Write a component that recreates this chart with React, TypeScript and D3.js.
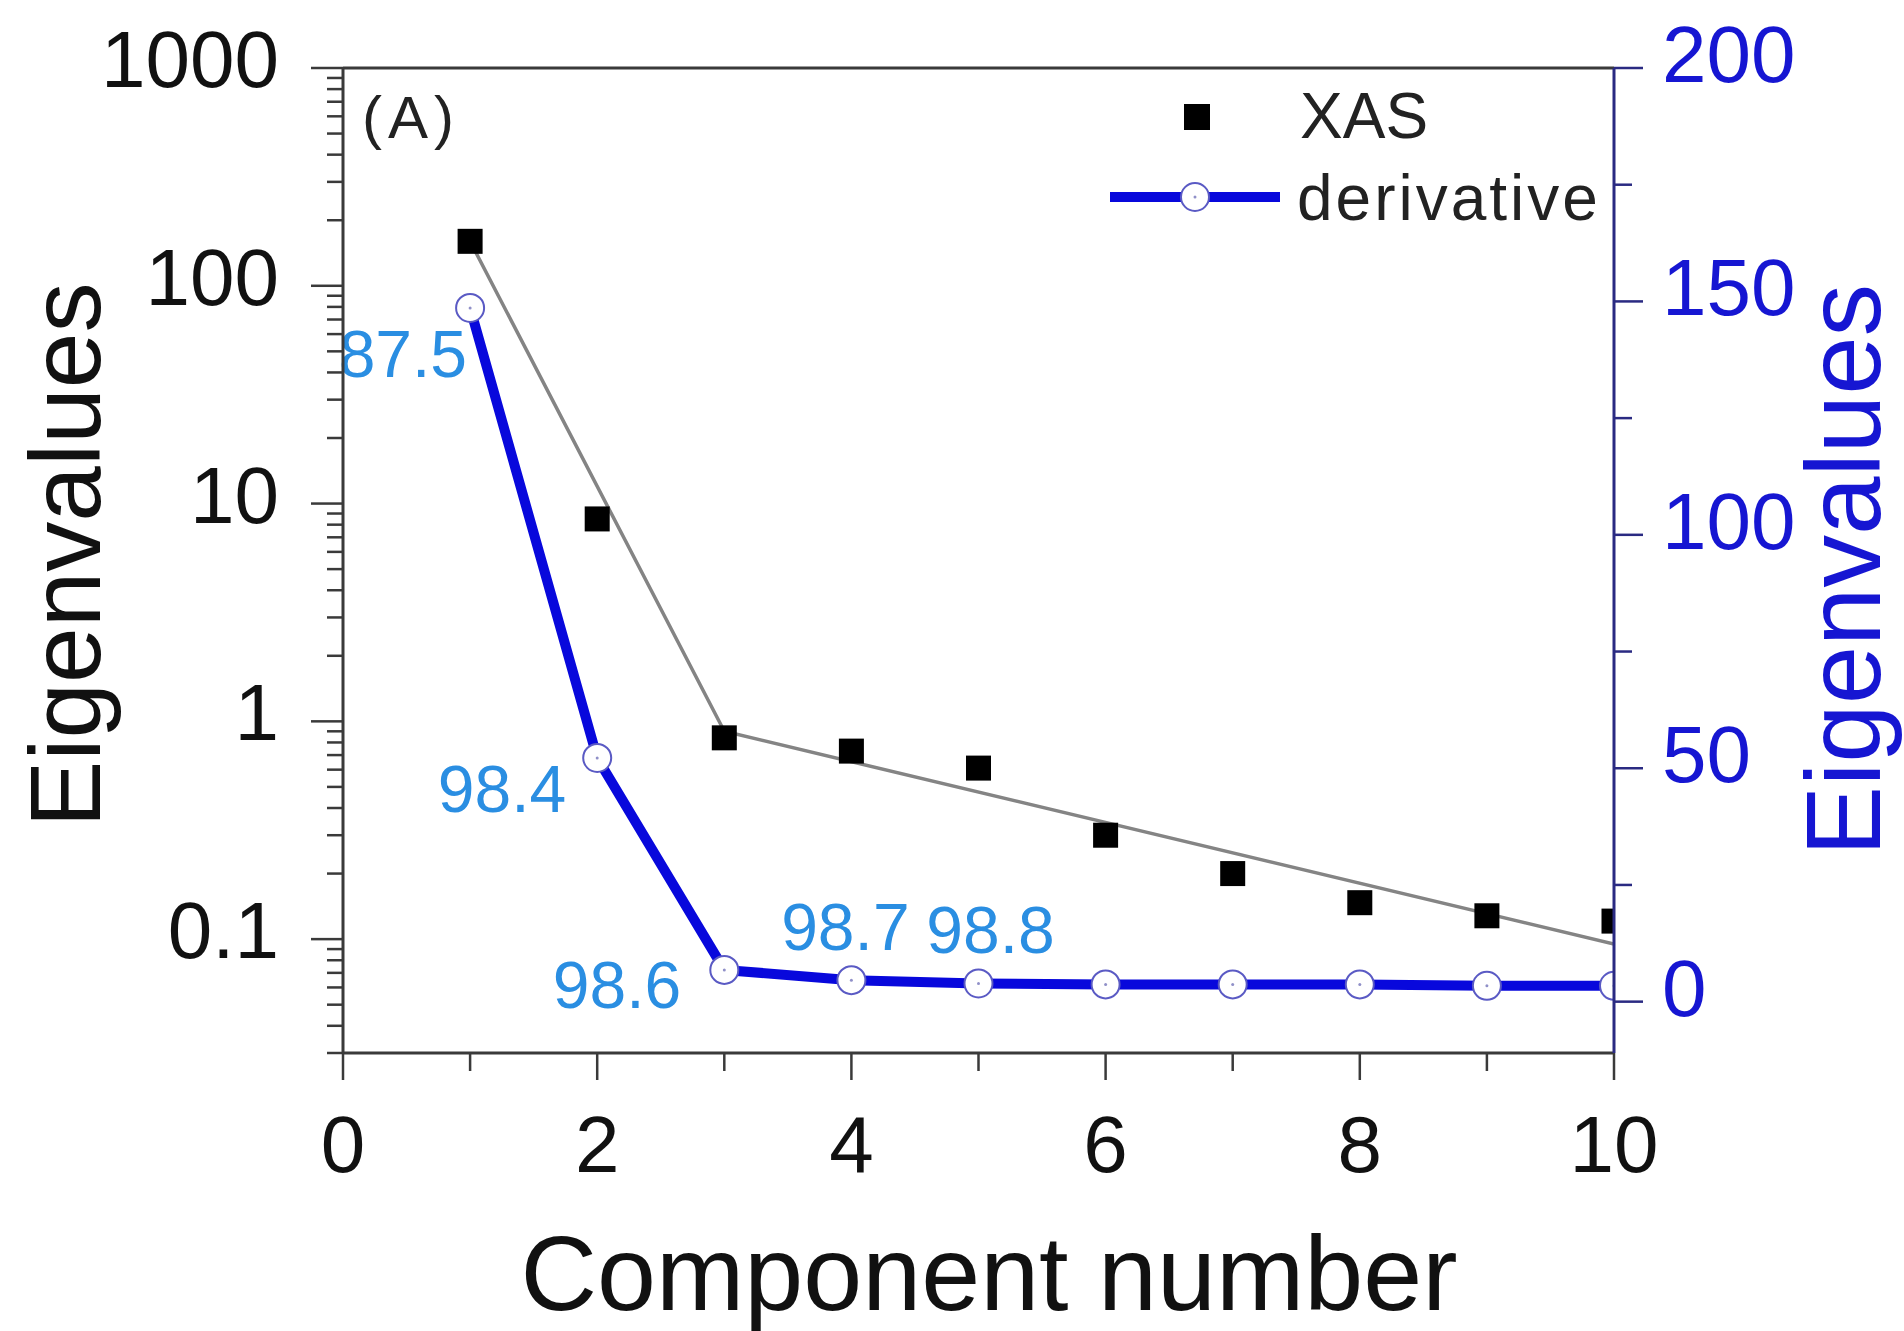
import React from "react";
import * as d3 from "d3";

// ---------- data ----------
const components = [1, 2, 3, 4, 5, 6, 7, 8, 9, 10];
const xasValues = [160, 8.5, 0.84, 0.73, 0.61, 0.3, 0.2, 0.147, 0.128, 0.121];
const derivativeValues = [148.6, 52.2, 6.8, 4.6, 3.9, 3.7, 3.7, 3.7, 3.4, 3.4];
const fitX = [1, 3, 10];
const fitY = [160, 0.9, 0.095];
const cumulativeComponents = [1, 2, 3, 4, 5];
const cumulativeLabels = ["87.5", "98.4", "98.6", "98.7", "98.8"];
const xTicks = [0, 2, 4, 6, 8, 10];
const xMinorTicks = [1, 3, 5, 7, 9];
const leftTicks = [0.1, 1, 10, 100, 1000];
const leftTickLabels = ["0.1", "1", "10", "100", "1000"];
const rightTicks = [0, 50, 100, 150, 200];
const rightMinorTicks = [25, 75, 125, 175];
const legendLabels = ["XAS", "derivative"];

// ---------- layout ----------
const W = 1904, H = 1331;
const L = 343, R = 1614, T = 68, B = 1053;
const FONT = "'Liberation Sans', Arial, Helvetica, sans-serif";
const BLUE_LINE = "#0808dc";
const BLUE_TEXT = "#1616d2";
const LABEL_BLUE = "#2a8ee2";
const AXIS = "#3a3a3a";
const RIGHT_AXIS = "#2a2a82";

// label offsets (layout only) relative to the data point
const labelLayout = [
  { dx: -3, dy: 69, anchor: "end" },
  { dx: -31, dy: 54, anchor: "end" },
  { dx: -43, dy: 38, anchor: "end" },
  { dx: -6, dy: -30, anchor: "middle" },
  { dx: 12, dy: -30, anchor: "middle" },
];

export default function App() {
  const x = d3.scaleLinear().domain([0, 10]).range([L, R]);
  const yL = d3.scaleLog().domain([0.03, 1000]).range([B, T]);
  const yR = d3.scaleLinear().domain([-11, 200]).range([B, T]);

  const fitLine = d3
    .line<number>()
    .x((_, i) => x(fitX[i]))
    .y((_, i) => yL(fitY[i]))(fitX);

  const derivLine = d3
    .line<number>()
    .x((c) => x(c))
    .y((_, i) => yR(derivativeValues[i]))(components);

  const logTicks: { v: number; major: boolean }[] = [];
  for (let d = -2; d <= 3; d++) {
    for (let k = 1; k <= 9; k++) {
      const v = k * Math.pow(10, d);
      if (v >= 0.03 - 1e-9 && v <= 1000 + 1e-9) logTicks.push({ v, major: k === 1 });
    }
  }

  const sq = 25;
  const cr = 14;

  return (
    <svg
      width={W}
      height={H}
      style={{ position: "absolute", left: 0, top: 0, background: "#fff" }}
      fontFamily={FONT}
    >
      <defs>
        <clipPath id="plotclip">
          <rect x={L} y={T} width={R - L} height={B - T} />
        </clipPath>
      </defs>
      <rect x={0} y={0} width={W} height={H} fill="#fff" />

      {/* data */}
      <g clipPath="url(#plotclip)">
        <path d={fitLine || ""} fill="none" stroke="#848484" strokeWidth={3.5} />
        {components.map((c, i) => (
          <rect
            key={"s" + c}
            x={x(c) - sq / 2}
            y={yL(xasValues[i]) - sq / 2}
            width={sq}
            height={sq}
            fill="#000"
          />
        ))}
        <path d={derivLine || ""} fill="none" stroke={BLUE_LINE} strokeWidth={10} strokeLinejoin="round" />
        {components.map((c, i) => (
          <g key={"c" + c}>
            <circle cx={x(c)} cy={yR(derivativeValues[i])} r={cr} fill="#fff" stroke="#5a5ac4" strokeWidth={2} />
            <circle cx={x(c)} cy={yR(derivativeValues[i])} r={1.5} fill="#9090c8" />
          </g>
        ))}
      </g>

      {/* cumulative labels */}
      {cumulativeComponents.map((c, i) => (
        <text
          key={"lab" + c}
          x={x(c) + labelLayout[i].dx}
          y={yR(derivativeValues[c - 1]) + labelLayout[i].dy}
          textAnchor={labelLayout[i].anchor}
          fontSize={66}
          fill={LABEL_BLUE}
        >
          {cumulativeLabels[i]}
        </text>
      ))}

      {/* frame */}
      <line x1={L} y1={T} x2={R} y2={T} stroke={AXIS} strokeWidth={3} />
      <line x1={L} y1={T} x2={L} y2={B} stroke={AXIS} strokeWidth={3} />
      <line x1={L} y1={B} x2={R} y2={B} stroke={AXIS} strokeWidth={3} />
      <line x1={R} y1={T} x2={R} y2={B} stroke={RIGHT_AXIS} strokeWidth={3} />

      {/* left log axis */}
      {logTicks.map((t, i) => (
        <line
          key={"lt" + i}
          x1={L}
          x2={L - (t.major ? 32 : 16)}
          y1={yL(t.v)}
          y2={yL(t.v)}
          stroke={AXIS}
          strokeWidth={2.5}
        />
      ))}
      {leftTicks.map((t, i) => (
        <text key={"ll" + t} x={279} y={yL(t) + 19} textAnchor="end" fontSize={80} fill="#111">
          {leftTickLabels[i]}
        </text>
      ))}

      {/* bottom axis */}
      {xTicks.map((t) => (
        <g key={"xt" + t}>
          <line x1={x(t)} x2={x(t)} y1={B} y2={B + 27} stroke={AXIS} strokeWidth={2.5} />
          <text x={x(t)} y={1172} textAnchor="middle" fontSize={80} fill="#111">
            {t}
          </text>
        </g>
      ))}
      {xMinorTicks.map((t) => (
        <line key={"xm" + t} x1={x(t)} x2={x(t)} y1={B} y2={B + 18} stroke={AXIS} strokeWidth={2.5} />
      ))}

      {/* right axis */}
      {rightTicks.map((t) => (
        <g key={"rt" + t}>
          <line x1={R} x2={R + 29} y1={yR(t)} y2={yR(t)} stroke={RIGHT_AXIS} strokeWidth={2.5} />
          <text x={1662} y={yR(t) + 14} textAnchor="start" fontSize={80} fill={BLUE_TEXT}>
            {t}
          </text>
        </g>
      ))}
      {rightMinorTicks.map((t) => (
        <line key={"rm" + t} x1={R} x2={R + 18} y1={yR(t)} y2={yR(t)} stroke={RIGHT_AXIS} strokeWidth={2.5} />
      ))}

      {/* titles */}
      <text x={989} y={1310} textAnchor="middle" fontSize={106} fill="#111">
        Component number
      </text>
      <text
        transform={`translate(100, 555) rotate(-90)`}
        textAnchor="middle"
        fontSize={100}
        fill="#111"
      >
        Eigenvalues
      </text>
      <text
        transform={`translate(1880, 570) rotate(-90)`}
        textAnchor="middle"
        fontSize={105}
        fill={BLUE_TEXT}
      >
        Eigenvalues
      </text>

      {/* panel tag */}
      <text x={362} y={138} fontSize={60} letterSpacing={6} fill="#222">
        (A)
      </text>

      {/* legend */}
      <rect x={1197 - 13} y={117 - 13} width={26} height={26} fill="#000" />
      <text x={1300} y={138} fontSize={64} fill="#222">
        {legendLabels[0]}
      </text>
      <line x1={1110} x2={1280} y1={197} y2={197} stroke={BLUE_LINE} strokeWidth={10} />
      <circle cx={1195} cy={197} r={cr} fill="#fff" stroke="#5a5ac4" strokeWidth={2} />
      <circle cx={1195} cy={197} r={1.5} fill="#9090c8" />
      <text x={1297} y={220} fontSize={64} letterSpacing={3} fill="#222">
        {legendLabels[1]}
      </text>
    </svg>
  );
}
